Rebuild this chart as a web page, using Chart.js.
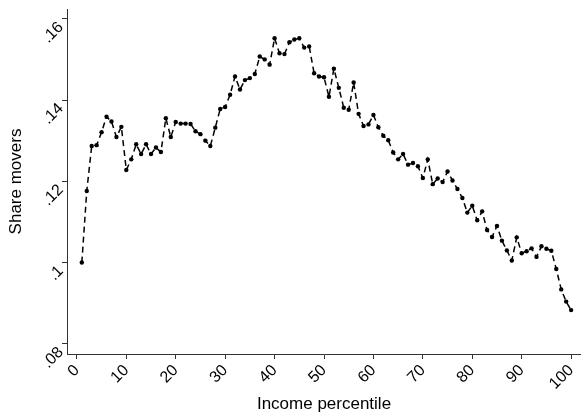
<!DOCTYPE html>
<html>
<head>
<meta charset="utf-8">
<script src="https://cdn.jsdelivr.net/npm/chart.js@4/dist/chart.umd.min.js"></script>
<style>
  body { margin: 0; background: #fff; }
  canvas { display: block; }
</style>
</head>
<body>
<canvas id="moversChart" width="581" height="417"></canvas>
<script>
const percentiles = [
  1, 2, 3, 4, 5, 6, 7, 8, 9, 10, 11, 12, 13, 14, 15, 16, 17, 18, 19, 20,
  21, 22, 23, 24, 25, 26, 27, 28, 29, 30, 31, 32, 33, 34, 35, 36, 37, 38, 39, 40,
  41, 42, 43, 44, 45, 46, 47, 48, 49, 50, 51, 52, 53, 54, 55, 56, 57, 58, 59, 60,
  61, 62, 63, 64, 65, 66, 67, 68, 69, 70, 71, 72, 73, 74, 75, 76, 77, 78, 79, 80,
  81, 82, 83, 84, 85, 86, 87, 88, 89, 90, 91, 92, 93, 94, 95, 96, 97, 98, 99, 100,
];

const shareMovers = [
  0.1000, 0.1176, 0.1287, 0.1289, 0.1321, 0.1359, 0.1347, 0.1309, 0.1334, 0.1228,
  0.1254, 0.1291, 0.1267, 0.1291, 0.1267, 0.1283, 0.1272, 0.1355, 0.1309, 0.1346,
  0.1342, 0.1342, 0.1341, 0.1323, 0.1316, 0.1300, 0.1287, 0.1332, 0.1378, 0.1383,
  0.1413, 0.1458, 0.1426, 0.1449, 0.1454, 0.1464, 0.1507, 0.1500, 0.1487, 0.1552,
  0.1515, 0.1513, 0.1542, 0.1549, 0.1552, 0.1529, 0.1532, 0.1466, 0.1458, 0.1456,
  0.1408, 0.1477, 0.1430, 0.1381, 0.1376, 0.1443, 0.1366, 0.1336, 0.1340, 0.1363,
  0.1333, 0.1312, 0.1301, 0.1271, 0.1254, 0.1267, 0.1241, 0.1245, 0.1237, 0.1208,
  0.1254, 0.1193, 0.1207, 0.1198, 0.1224, 0.1202, 0.1181, 0.1159, 0.1123, 0.1140,
  0.1104, 0.1126, 0.1080, 0.1063, 0.1090, 0.1054, 0.1030, 0.1005, 0.1062, 0.1023,
  0.1028, 0.1035, 0.1014, 0.1040, 0.1034, 0.1029, 0.0984, 0.0934, 0.0904, 0.0883,
];

const xTicks = [0, 10, 20, 30, 40, 50, 60, 70, 80, 90, 100];
const yTicks = [0.08, 0.1, 0.12, 0.14, 0.16];
const yTickLabels = [".08", ".1", ".12", ".14", ".16"];

const axisColor = "#333";
const fontFamily = "'Liberation Sans', Arial, sans-serif";

const points = percentiles.map((p, i) => ({ x: p, y: shareMovers[i] }));

const ctx = document.getElementById("moversChart");

const moversChart = new Chart(ctx, {
  type: "line",
  data: {
    datasets: [
      {
        label: "Share movers",
        data: points,
        borderColor: "#000",
        borderWidth: 1.5,
        borderDash: [6, 4],
        pointRadius: 2.2,
        pointBackgroundColor: "#000",
        pointBorderWidth: 0,
        tension: 0,
      },
    ],
  },
  options: {
    responsive: false,
    devicePixelRatio: 1,
    animation: false,
    layout: { autoPadding: false, padding: { top: 9, right: 0, bottom: 0, left: 0 } },
    plugins: {
      legend: { display: false },
      tooltip: { enabled: false },
    },
    scales: {
      x: {
        type: "linear",
        min: -2,
        max: 102,
        afterBuildTicks: (scale) => {
          scale.ticks = xTicks.map((v) => ({ value: v }));
        },
        afterFit: (scale) => {
          scale.height = 63;
          scale.paddingLeft = 0;
          scale.paddingRight = 0;
        },
        ticks: {
          autoSkip: false,
          minRotation: 45,
          maxRotation: 45,
          padding: 2,
          color: "#000",
          font: { family: fontFamily, size: 16 },
        },
        grid: {
          drawOnChartArea: false,
          drawTicks: true,
          tickLength: 5,
          color: axisColor,
        },
        border: { color: axisColor, width: 1 },
        title: {
          display: true,
          text: "Income percentile",
          color: "#000",
          font: { family: fontFamily, size: 17 },
          padding: { top: 0, bottom: 2 },
        },
      },
      y: {
        type: "linear",
        min: 0.0775,
        max: 0.1624,
        afterBuildTicks: (scale) => {
          scale.ticks = yTicks.map((v) => ({ value: v }));
        },
        afterFit: (scale) => {
          scale.width = 67;
          scale.paddingTop = 0;
          scale.paddingBottom = 0;
        },
        ticks: {
          minRotation: 45,
          maxRotation: 45,
          padding: 1,
          labelOffset: 6,
          color: "#000",
          font: { family: fontFamily, size: 16 },
          callback: (value) => {
            const idx = yTicks.findIndex((t) => Math.abs(t - value) < 1e-9);
            return idx >= 0 ? yTickLabels[idx] : "";
          },
        },
        grid: {
          drawOnChartArea: false,
          drawTicks: true,
          tickLength: 5,
          color: axisColor,
        },
        border: { color: axisColor, width: 1 },
        title: {
          display: true,
          text: "Share movers",
          color: "#000",
          font: { family: fontFamily, size: 17 },
          padding: { top: 6, bottom: 0 },
        },
      },
    },
  },
});
</script>
</body>
</html>
